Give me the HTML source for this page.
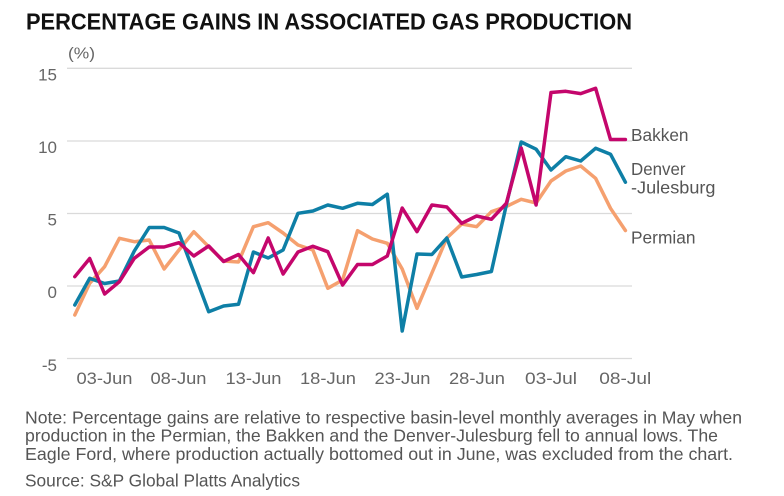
<!DOCTYPE html>
<html><head><meta charset="utf-8"><style>
html,body{margin:0;padding:0;background:#fff;}
svg{display:block;}
text{font-family:"Liberation Sans",sans-serif;}
</style></head><body>
<svg width="784" height="496" viewBox="0 0 784 496" xmlns="http://www.w3.org/2000/svg">
<rect width="784" height="496" fill="#fff"/>
<text x="26" y="29.5" font-size="23" font-weight="bold" fill="#111" textLength="606" lengthAdjust="spacingAndGlyphs">PERCENTAGE GAINS IN ASSOCIATED GAS PRODUCTION</text>
<text x="68" y="58.5" font-size="16" fill="#666" textLength="27" lengthAdjust="spacingAndGlyphs">(%)</text>
<g stroke="#dadada" stroke-width="1.3">
<line x1="67" y1="68.3" x2="632" y2="68.3"/>
<line x1="67" y1="141" x2="632" y2="141"/>
<line x1="67" y1="213.5" x2="632" y2="213.5"/>
<line x1="67" y1="286" x2="632" y2="286"/>
<line x1="67" y1="358.5" x2="632" y2="358.5"/>
</g>
<g font-size="17" fill="#666" text-anchor="end">
<text x="57" y="80.5">15</text>
<text x="57" y="153">10</text>
<text x="57" y="225.5">5</text>
<text x="57" y="298">0</text>
<text x="57" y="371">-5</text>
</g>
<g font-size="17" fill="#666" text-anchor="middle">
<text x="104.5" y="384" textLength="56" lengthAdjust="spacingAndGlyphs">03-Jun</text>
<text x="178.5" y="384" textLength="56" lengthAdjust="spacingAndGlyphs">08-Jun</text>
<text x="253.5" y="384" textLength="56" lengthAdjust="spacingAndGlyphs">13-Jun</text>
<text x="328" y="384" textLength="56" lengthAdjust="spacingAndGlyphs">18-Jun</text>
<text x="402.5" y="384" textLength="56" lengthAdjust="spacingAndGlyphs">23-Jun</text>
<text x="477" y="384" textLength="56" lengthAdjust="spacingAndGlyphs">28-Jun</text>
<text x="551" y="384" textLength="52" lengthAdjust="spacingAndGlyphs">03-Jul</text>
<text x="625.3" y="384" textLength="52" lengthAdjust="spacingAndGlyphs">08-Jul</text>
</g>
<g fill="none" stroke-width="3.5" stroke-linejoin="round" stroke-linecap="round">
<polyline stroke="#f5a06f" points="74.8,315 89.7,283.3 104.6,266.7 119.4,238.3 134.3,241.7 149.2,240 164.1,269 179,250 193.8,231.7 208.7,246.7 223.6,261 238.5,262 253.4,226.7 268.2,222.7 283.1,233 298,245 312.9,250 327.8,288.3 342.6,280 357.5,230.7 372.4,239 387.3,243.3 402.2,269 417,308.3 431.9,273 446.8,238 461.7,224 476.6,226.7 491.4,211.7 506.3,206.5 521.2,199.3 536.1,203 551,181 565.8,171 580.7,166 595.6,178.3 610.5,208.3 625.4,230.5"/>
<polyline stroke="#0e7fa6" points="74.8,305 89.7,278.3 104.6,283.5 119.4,281 134.3,251 149.2,227.5 164.1,227.5 179,233 193.8,272 208.7,311.7 223.6,306 238.5,304.3 253.4,252 268.2,258 283.1,250 298,213.3 312.9,211 327.8,205 342.6,208.3 357.5,203.3 372.4,204.5 387.3,194.2 402.2,331 417,254 431.9,254.5 446.8,238 461.7,277 476.6,274.5 491.4,271.5 506.3,205 521.2,142 536.1,149.2 551,170 565.8,156.7 580.7,161 595.6,148.3 610.5,154.2 625.4,182.2"/>
<polyline stroke="#c4066c" points="74.8,276.7 89.7,258.5 104.6,294 119.4,281.7 134.3,258.3 149.2,247 164.1,247 179,242.7 193.8,256 208.7,246 223.6,261.5 238.5,254.5 253.4,272.7 268.2,238 283.1,274 298,252 312.9,246.3 327.8,251.7 342.6,285 357.5,264.5 372.4,264.5 387.3,256 402.2,208 417,231.7 431.9,205 446.8,207 461.7,223.3 476.6,216 491.4,219.3 506.3,203.3 521.2,148 536.1,205 551,92.5 565.8,91.3 580.7,93.6 595.6,88.3 610.5,139.5 625.4,139.5"/>
</g>
<g font-size="17.5" fill="#555">
<text x="631" y="141" textLength="57.5" lengthAdjust="spacingAndGlyphs">Bakken</text>
<text x="631" y="175" textLength="54.5" lengthAdjust="spacingAndGlyphs">Denver</text>
<text x="631" y="193.3" textLength="84.5" lengthAdjust="spacingAndGlyphs">-Julesburg</text>
<text x="631" y="243.3" textLength="64.5" lengthAdjust="spacingAndGlyphs">Permian</text>
</g>
<g font-size="17.5" fill="#555">
<text x="25" y="423.3" textLength="717" lengthAdjust="spacingAndGlyphs">Note: Percentage gains are relative to respective basin-level monthly averages in May when</text>
<text x="25" y="441.7" textLength="693" lengthAdjust="spacingAndGlyphs">production in the Permian, the Bakken and the Denver-Julesburg fell to annual lows. The</text>
<text x="25" y="460" textLength="708" lengthAdjust="spacingAndGlyphs">Eagle Ford, where production actually bottomed out in June, was excluded from the chart.</text>
<text x="25" y="486.7" textLength="275" lengthAdjust="spacingAndGlyphs">Source: S&amp;P Global Platts Analytics</text>
</g>
</svg>
</body></html>
